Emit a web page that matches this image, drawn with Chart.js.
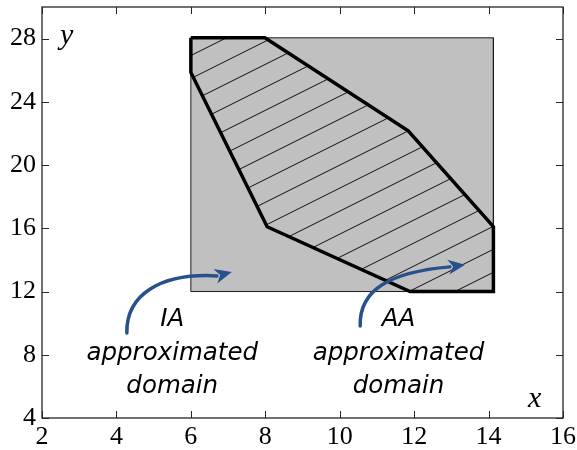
<!DOCTYPE html>
<html>
<head>
<meta charset="utf-8">
<script src="https://cdn.jsdelivr.net/npm/chart.js@4/dist/chart.umd.min.js"></script>
<style>
  html, body { margin: 0; padding: 0; background: #fff; }
  #wrap { width: 577px; height: 450px; }
</style>
</head>
<body>
<div id="wrap"><canvas id="domainChart"></canvas></div>
<script>
// axis ranges
const xRange = [2, 16];
const yRange = [4, 30];

// gray box (IA approximated domain)
const boxX = [6, 6, 14.13, 14.13, 6];
const boxY = [12, 28.05, 28.05, 12, 12];

// hatched polygon (AA approximated domain)
const polyX = [6, 7.99, 11.84, 14.13, 14.13, 11.89, 8.05, 6, 6];
const polyY = [28.05, 28.05, 22.17, 16.11, 12, 12, 16.1, 25.86, 28.05];

// annotation text
const noteNames = ['IA', 'AA'];
const noteWords = ['approximated', 'domain'];
const noteX = [5.5, 11.58];
const noteLineY = [9.85, 7.7, 5.6];

// arrows: tail, control 1, control 2, shaft end, tip (data coords)
const arrowIA = [[4.28, 9.38], [4.26, 11.79], [5.17, 13.18], [6.70, 12.99], [7.10, 13.24]];
const arrowAA = [[10.55, 9.82], [10.52, 12.10], [11.35, 13.24], [12.96, 13.56], [13.37, 13.69]];

const ARROW_BLUE = '#27508c';

function makeHatch() {
    const c = document.createElement('canvas');
    c.width = 46;
    c.height = 23;
    const g = c.getContext('2d');
    g.strokeStyle = '#111';
    g.lineWidth = 1;
    for (let k = -1; k <= 2; k++) {
        g.beginPath();
        g.moveTo(-2, 14 + 23 * k);
        g.lineTo(48, -11 + 23 * k);
        g.stroke();
    }
    return g.createPattern(c, 'repeat');
}

function toPoints(xs, ys) {
    return xs.map((v, i) => ({ x: v, y: ys[i] }));
}

function drawArrow(ctx, xs, ys, pts) {
    const p = pts.map(([a, b]) => [xs.getPixelForValue(a), ys.getPixelForValue(b)]);
    ctx.save();
    ctx.strokeStyle = ARROW_BLUE;
    ctx.fillStyle = ARROW_BLUE;
    ctx.lineWidth = 3.5;
    ctx.lineCap = 'round';
    ctx.beginPath();
    ctx.moveTo(p[0][0], p[0][1]);
    ctx.bezierCurveTo(p[1][0], p[1][1], p[2][0], p[2][1], p[3][0], p[3][1]);
    ctx.stroke();
    const ang = Math.atan2(p[4][1] - p[3][1], p[4][0] - p[3][0]);
    ctx.translate(p[4][0], p[4][1]);
    ctx.rotate(ang);
    ctx.beginPath();
    ctx.moveTo(0, 0);
    ctx.lineTo(-17, -7.5);
    ctx.lineTo(-12, 0);
    ctx.lineTo(-17, 7.5);
    ctx.closePath();
    ctx.fill();
    ctx.restore();
}

const overlay = {
    id: 'overlay',
    afterDatasetsDraw(chart) {
        const { ctx, chartArea: a, scales: { x, y } } = chart;
        ctx.save();

        // frame
        ctx.strokeStyle = '#262626';
        ctx.lineWidth = 1.3;
        ctx.strokeRect(a.left, a.top, a.right - a.left, a.bottom - a.top);

        // inward ticks on all four sides
        ctx.lineWidth = 1;
        ctx.beginPath();
        x.ticks.forEach(t => {
            const px = Math.round(x.getPixelForValue(t.value)) + 0.5;
            ctx.moveTo(px, a.bottom); ctx.lineTo(px, a.bottom - 7);
            ctx.moveTo(px, a.top); ctx.lineTo(px, a.top + 7);
        });
        y.ticks.forEach(t => {
            const py = Math.round(y.getPixelForValue(t.value)) + 0.5;
            ctx.moveTo(a.left, py); ctx.lineTo(a.left + 7, py);
            ctx.moveTo(a.right, py); ctx.lineTo(a.right - 7, py);
        });
        ctx.stroke();

        // arrows
        drawArrow(ctx, x, y, arrowIA);
        drawArrow(ctx, x, y, arrowAA);

        // annotation text
        ctx.fillStyle = '#000';
        ctx.textAlign = 'center';
        ctx.textBaseline = 'alphabetic';
        ctx.font = 'italic 24.5px "DejaVu Sans"';
        noteNames.forEach((name, i) => {
            const px = x.getPixelForValue(noteX[i]);
            [name, ...noteWords].forEach((line, j) => {
                ctx.fillText(line, px, y.getPixelForValue(noteLineY[j]));
            });
        });

        // axis letters
        ctx.font = 'italic 30px "Liberation Serif"';
        ctx.textAlign = 'left';
        ctx.fillText('y', a.left + 18, a.top + 37);
        ctx.fillText('x', a.right - 35, a.bottom - 11);

        ctx.restore();
    }
};

const tickFont = { family: '"Liberation Serif", "Times New Roman", serif', size: 26 };

new Chart(document.getElementById('domainChart'), {
    type: 'scatter',
    data: {
        datasets: [
            {
                label: 'AA approximated domain',
                data: toPoints(polyX, polyY),
                showLine: true,
                fill: 'shape',
                backgroundColor: makeHatch(),
                borderColor: '#000',
                borderWidth: 3.5,
                borderJoinStyle: 'miter',
                pointRadius: 0,
                tension: 0,
                order: 0
            },
            {
                label: 'IA approximated domain',
                data: toPoints(boxX, boxY),
                showLine: true,
                fill: 'shape',
                backgroundColor: '#c0c0c0',
                borderColor: '#1a1a1a',
                borderWidth: 1,
                pointRadius: 0,
                tension: 0,
                order: 1
            }
        ]
    },
    options: {
        responsive: true,
        maintainAspectRatio: false,
        animation: false,
        events: [],
        layout: { padding: { top: 7, right: 14, bottom: 0, left: 0 } },
        plugins: {
            legend: { display: false },
            tooltip: { enabled: false }
        },
        scales: {
            x: {
                type: 'linear',
                min: xRange[0],
                max: xRange[1],
                grid: { display: false, drawTicks: false },
                border: { display: false },
                ticks: { stepSize: 2, color: '#000', font: tickFont, padding: 4, maxRotation: 0 },
                afterFit: s => { s.height = 32; s.paddingLeft = 0; s.paddingRight = 0; }
            },
            y: {
                type: 'linear',
                min: yRange[0],
                max: yRange[1],
                grid: { display: false, drawTicks: false },
                border: { display: false },
                ticks: { stepSize: 4, includeBounds: false, color: '#000', font: tickFont, padding: 6 },
                afterFit: s => { s.width = 42; s.paddingTop = 0; s.paddingBottom = 0; }
            }
        }
    },
    plugins: [overlay]
});
</script>
</body>
</html>
